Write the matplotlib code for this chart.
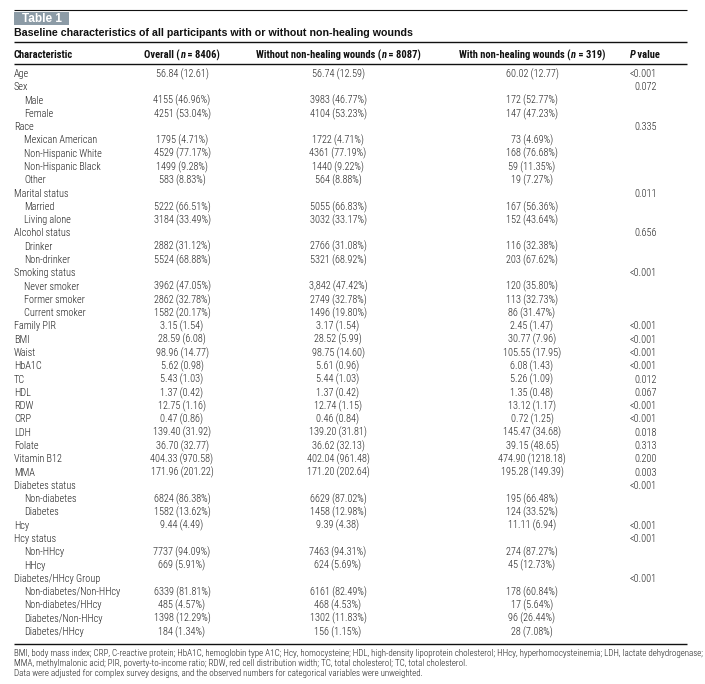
import matplotlib
matplotlib.use("Agg")
import matplotlib.pyplot as plt
from matplotlib import font_manager as fm
from matplotlib.font_manager import FontProperties

# ---------------- data ----------------
characteristics = [
    "Age", "Sex", "Male", "Female", "Race", "Mexican American", "Non-Hispanic White",
    "Non-Hispanic Black", "Other", "Marital status", "Married", "Living alone",
    "Alcohol status", "Drinker", "Non-drinker", "Smoking status", "Never smoker",
    "Former smoker", "Current smoker", "Family PIR", "BMI", "Waist", "HbA1C", "TC",
    "HDL", "RDW", "CRP", "LDH", "Folate", "Vitamin B12", "MMA", "Diabetes status",
    "Non-diabetes", "Diabetes", "Hcy", "Hcy status", "Non-HHcy", "HHcy",
    "Diabetes/HHcy Group", "Non-diabetes/Non-HHcy", "Non-diabetes/HHcy",
    "Diabetes/Non-HHcy", "Diabetes/HHcy",
]
subitem = [
    0, 0, 1, 1, 0, 1, 1, 1, 1, 0, 1, 1, 0, 1, 1, 0, 1, 1, 1, 0, 0, 0, 0, 0, 0, 0,
    0, 0, 0, 0, 0, 0, 1, 1, 0, 0, 1, 1, 0, 1, 1, 1, 1,
]
overall = [
    "56.84 (12.61)", "", "4155 (46.96%)", "4251 (53.04%)", "", "1795 (4.71%)",
    "4529 (77.17%)", "1499 (9.28%)", "583 (8.83%)", "", "5222 (66.51%)",
    "3184 (33.49%)", "", "2882 (31.12%)", "5524 (68.88%)", "", "3962 (47.05%)",
    "2862 (32.78%)", "1582 (20.17%)", "3.15 (1.54)", "28.59 (6.08)", "98.96 (14.77)",
    "5.62 (0.98)", "5.43 (1.03)", "1.37 (0.42)", "12.75 (1.16)", "0.47 (0.86)",
    "139.40 (31.92)", "36.70 (32.77)", "404.33 (970.58)", "171.96 (201.22)", "",
    "6824 (86.38%)", "1582 (13.62%)", "9.44 (4.49)", "", "7737 (94.09%)",
    "669 (5.91%)", "", "6339 (81.81%)", "485 (4.57%)", "1398 (12.29%)", "184 (1.34%)",
]
without_wounds = [
    "56.74 (12.59)", "", "3983 (46.77%)", "4104 (53.23%)", "", "1722 (4.71%)",
    "4361 (77.19%)", "1440 (9.22%)", "564 (8.88%)", "", "5055 (66.83%)",
    "3032 (33.17%)", "", "2766 (31.08%)", "5321 (68.92%)", "", "3,842 (47.42%)",
    "2749 (32.78%)", "1496 (19.80%)", "3.17 (1.54)", "28.52 (5.99)", "98.75 (14.60)",
    "5.61 (0.96)", "5.44 (1.03)", "1.37 (0.42)", "12.74 (1.15)", "0.46 (0.84)",
    "139.20 (31.81)", "36.62 (32.13)", "402.04 (961.48)", "171.20 (202.64)", "",
    "6629 (87.02%)", "1458 (12.98%)", "9.39 (4.38)", "", "7463 (94.31%)",
    "624 (5.69%)", "", "6161 (82.49%)", "468 (4.53%)", "1302 (11.83%)", "156 (1.15%)",
]
with_wounds = [
    "60.02 (12.77)", "", "172 (52.77%)", "147 (47.23%)", "", "73 (4.69%)",
    "168 (76.68%)", "59 (11.35%)", "19 (7.27%)", "", "167 (56.36%)",
    "152 (43.64%)", "", "116 (32.38%)", "203 (67.62%)", "", "120 (35.80%)",
    "113 (32.73%)", "86 (31.47%)", "2.45 (1.47)", "30.77 (7.96)", "105.55 (17.95)",
    "6.08 (1.43)", "5.26 (1.09)", "1.35 (0.48)", "13.12 (1.17)", "0.72 (1.25)",
    "145.47 (34.68)", "39.15 (48.65)", "474.90 (1218.18)", "195.28 (149.39)", "",
    "195 (66.48%)", "124 (33.52%)", "11.11 (6.94)", "", "274 (87.27%)",
    "45 (12.73%)", "", "178 (60.84%)", "17 (5.64%)", "96 (26.44%)", "28 (7.08%)",
]
p_values = [
    "<0.001", "0.072", "", "", "0.335", "", "", "", "", "0.011", "", "",
    "0.656", "", "", "<0.001", "", "", "", "<0.001", "<0.001", "<0.001", "<0.001",
    "0.012", "0.067", "<0.001", "<0.001", "0.018", "0.313", "0.200", "0.003",
    "<0.001", "", "", "<0.001", "<0.001", "", "", "<0.001", "", "", "", "",
]
# *...* marks the italic part of a header
headers = ["Characteristic", "Overall (*n* = 8406)",
           "Without non-healing wounds (*n* = 8087)",
           "With non-healing wounds (*n* = 319)", "*P* value"]
table_label = "Table 1"
title = "Baseline characteristics of all participants with or without non-healing wounds"
footnotes = [
    "BMI, body mass index; CRP, C-reactive protein; HbA1C, hemoglobin type A1C; Hcy, homocysteine; "
    "HDL, high-density lipoprotein cholesterol; HHcy, hyperhomocysteinemia; LDH, lactate dehydrogenase;",
    "MMA, methylmalonic acid; PIR, poverty-to-income ratio; RDW, red cell distribution width; "
    "TC, total cholesterol; TC, total cholesterol.",
    "Data were adjusted for complex survey designs, and the observed numbers for categorical "
    "variables were unweighted.",
]


# ---------------- fonts ----------------
def has_font(name):
    try:
        fm.findfont(FontProperties(family=name), fallback_to_default=False)
        return True
    except Exception:
        return False


WIDE = "Liberation Sans" if has_font("Liberation Sans") else "DejaVu Sans"


def wnum(w):
    try:
        return int(w)
    except Exception:
        return {"ultralight": 200, "light": 300, "normal": 400, "regular": 400,
                "book": 400, "medium": 500, "semibold": 600, "demibold": 600,
                "bold": 700, "heavy": 800, "black": 900}.get(str(w).lower(), 400)


def is_condensed(e):
    s = str(e.stretch).lower()
    fn = e.fname.lower().replace("semicondensed", "").replace("semi-condensed", "")
    fn = fn.replace("extracondensed", "").replace("ultracondensed", "")
    sc = s in ("condensed", "narrow") or s == "75" or s == "75.0"
    return sc or "condensed" in fn or "narrow" in fn


def pick_condensed():
    entries = [e for e in fm.fontManager.ttflist if e.fname.lower().endswith((".ttf", ".otf"))]
    prefs = ["Liberation Sans Narrow", "Roboto Condensed", "Noto Sans", "Open Sans",
             "DejaVu Sans", "Roboto", "Lato", "Inter"]
    for fam in prefs:
        c = [e for e in entries if e.name.startswith(fam) and is_condensed(e)]
        if not c:
            continue
        def best(target_w, italic):
            pool = [e for e in c if (str(e.style).lower() != "normal") == italic]
            if not pool:
                pool = c
            return min(pool, key=lambda e: abs(wnum(e.weight) - target_w)).fname
        return {"light": best(300, False), "bold": best(700, False),
                "bolditalic": best(700, True)}
    return None


cond = pick_condensed()
if cond:
    FP_BODY = FontProperties(fname=cond["light"])
    FP_BOLD = FontProperties(fname=cond["bold"])
    FP_BI = FontProperties(fname=cond["bolditalic"])
else:
    FP_BODY = FontProperties(family=WIDE)
    FP_BOLD = FontProperties(family=WIDE, weight="bold")
    FP_BI = FontProperties(family=WIDE, weight="bold", style="italic")

TXT = "#1e1e1e"

# ---------------- figure ----------------
W, H = 705, 684
fig = plt.figure(figsize=(W / 100, H / 100), dpi=100)
ax = fig.add_axes([0, 0, 1, 1])
ax.set_xlim(0, W)
ax.set_ylim(H, 0)
ax.axis("off")
renderer = fig.canvas.get_renderer()


def text_width(s, fp, size):
    fpc = fp.copy()
    fpc.set_size(size)
    w1 = renderer.get_text_width_height_descent("|" + s + "|", fpc, ismath=False)[0]
    w0 = renderer.get_text_width_height_descent("||", fpc, ismath=False)[0]
    return w1 - w0  # display pixels at dpi 100 == data units here


def fit_size(s, fp, target):
    return 10.0 * target / text_width(s, fp, 10.0)


# sizes fitted to the reference's measured text widths (layout only)
BODY_SIZE = min(8.2, fit_size("56.84 (12.61)", FP_BODY, 53))
HDR_SIZE = min(8.2, fit_size("Characteristic", FP_BOLD, 59))
FN_SIZE = fit_size(footnotes[0], FP_BODY, 688)
TITLE_SIZE = fit_size(title, FontProperties(family=WIDE, weight="bold"), 398)


def rich_text(x, y, s, size, ha, color):
    parts = s.split("*")
    pieces = [(p, FP_BI if k % 2 else FP_BOLD) for k, p in enumerate(parts) if p]
    widths = [text_width(p, fp, size) for p, fp in pieces]
    total = sum(widths)
    if ha == "center":
        cx = x - total / 2
    elif ha == "right":
        cx = x - total
    else:
        cx = x
    for (p, fp), w in zip(pieces, widths):
        ax.text(cx, y, p, fontproperties=fp, fontsize=size, color=color,
                ha="left", va="center")
        cx += w


X0, X1 = 14, 687
# rules
ax.plot([X0, X1], [9.5, 9.5], color="#111", lw=0.8, solid_capstyle="butt")
ax.plot([X0, X1], [41.5, 41.5], color="#111", lw=1.0, solid_capstyle="butt")
ax.plot([X0, X1], [63.5, 63.5], color="#111", lw=1.0, solid_capstyle="butt")
ax.plot([X0, X1], [644, 644], color="#111", lw=1.0, solid_capstyle="butt")

# Table label box
ax.add_patch(plt.Rectangle((X0, 12), 55, 12.5, facecolor="#8c9ba6", edgecolor="none"))
ax.text(X0 + 27.5, 22.3, table_label, color="white", fontsize=8.5,
        fontweight="bold", family=WIDE, ha="center", va="baseline")

ax.text(X0, 33, title, color="#111", fontsize=TITLE_SIZE, fontweight="bold",
        family=WIDE, ha="left", va="center")

# header
col_x = [X0, 182, 338, 532, 645]
hdr_align = ["left", "center", "center", "center", "center"]
for x, h, al in zip(col_x, headers, hdr_align):
    rich_text(x, 55, h, HDR_SIZE, al, "#111")

# body
y_first, y_last = 74, 632
n = len(characteristics)
step = (y_last - y_first) / (n - 1)
P_RIGHT = 657
for i in range(n):
    y = y_first + i * step
    ax.text(X0 + 10 * subitem[i], y, characteristics[i], color=TXT, fontsize=BODY_SIZE,
            fontproperties=FP_BODY, ha="left", va="center")
    for x, col in zip(col_x[1:4], (overall, without_wounds, with_wounds)):
        if col[i]:
            ax.text(x, y, col[i], color=TXT, fontproperties=FP_BODY, fontsize=BODY_SIZE,
                    ha="center", va="center")
    if p_values[i]:
        ax.text(P_RIGHT, y, p_values[i], color=TXT, fontproperties=FP_BODY,
                fontsize=BODY_SIZE, ha="right", va="center")

# footnotes
fn_y = [653, 663.5, 674]
for y, s in zip(fn_y, footnotes):
    ax.text(X0, y, s, color=TXT, fontproperties=FP_BODY, fontsize=FN_SIZE,
            ha="left", va="center")

fig.savefig("out.png", dpi=100, facecolor="white")
